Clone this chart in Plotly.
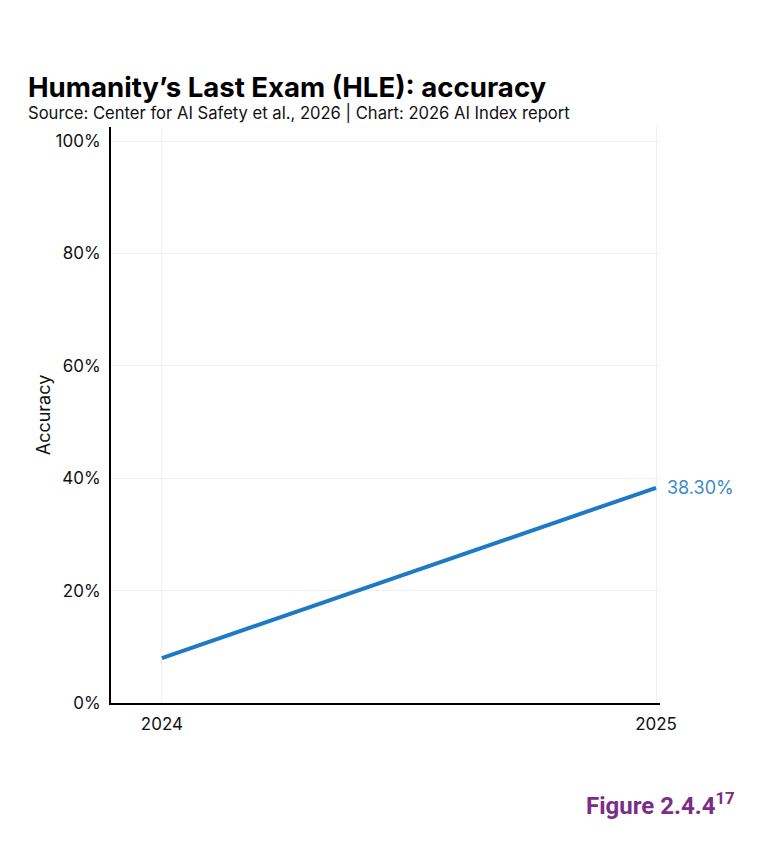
import plotly.graph_objects as go

years = [2024, 2025]
accuracy = [8.0, 38.3]
y_ticks = [0, 20, 40, 60, 80, 100]
y_tick_labels = ["0%", "20%", "40%", "60%", "80%", "100%"]
end_label = "38.30%"

W, H = 762, 850
L, R, T, B = 111, 102, 127, 147
PW, PH = W - L - R, H - T - B


def px_x(px):
    return (px - L) / PW


def px_y(py):
    return (H - B - py) / PH


fig = go.Figure()
fig.add_trace(go.Scatter(
    x=years, y=accuracy, mode="lines",
    line=dict(color="#1f7ac4", width=4),
    hoverinfo="skip", showlegend=False,
))
fig.add_annotation(
    x=years[-1], y=accuracy[-1], xref="x", yref="y",
    text=end_label, showarrow=False, xanchor="left", yanchor="middle",
    xshift=9, font=dict(family="Inter", size=18, color="#3a8bc9"),
)

fig.update_layout(
    width=W, height=H,
    margin=dict(l=L, r=R, t=T, b=B),
    paper_bgcolor="white", plot_bgcolor="white",
    font=dict(family="Inter", color="#111111"),
    xaxis=dict(
        range=[2023.897, 2025.008], tickvals=years, ticktext=[str(y) for y in years],
        showgrid=True, gridcolor="#f0f0f0", gridwidth=1,
        showline=True, linecolor="#000000", linewidth=2,
        zeroline=False, ticks="", tickfont=dict(size=17, color="#111111"),
        ticklabelstandoff=5,
    ),
    yaxis=dict(
        range=[0, 102.5], tickvals=y_ticks, ticktext=y_tick_labels,
        showgrid=True, gridcolor="#f0f0f0", gridwidth=1,
        showline=True, linecolor="#000000", linewidth=2,
        zeroline=False, ticks="", tickfont=dict(size=17, color="#111111"),
        ticklabelstandoff=5,
        title=dict(text="Accuracy", font=dict(size=18, color="#111111"), standoff=0),
    ),
)

fig.add_annotation(
    x=px_x(26), y=px_y(87), xref="paper", yref="paper",
    text="<b>Humanity’s Last Exam (HLE): accuracy</b>", showarrow=False,
    xanchor="left", yanchor="middle",
    font=dict(family="Inter", size=27.6, color="#000000"),
)
fig.add_annotation(
    x=px_x(26), y=px_y(113), xref="paper", yref="paper",
    text="Source: Center for AI Safety et al., 2026 | Chart: 2026 AI Index report",
    showarrow=False, xanchor="left", yanchor="middle",
    font=dict(family="Inter", size=16.6, color="#111111"),
)
fig.add_annotation(
    x=px_x(737), y=px_y(804), xref="paper", yref="paper",
    text="<b>Figure 2.4.4<sup>17</sup></b>", showarrow=False,
    xanchor="right", yanchor="middle",
    font=dict(family="Roboto", size=24, color="#7b2d87"),
)

fig.write_html("out.html")
